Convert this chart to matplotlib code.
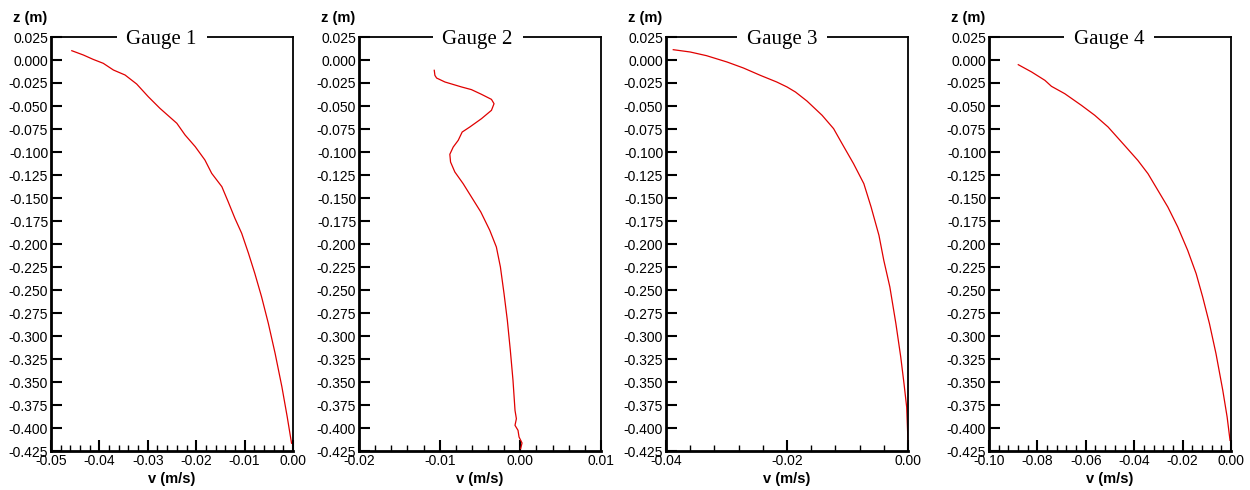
import matplotlib
matplotlib.use("Agg")
import matplotlib.pyplot as plt
from matplotlib.ticker import MultipleLocator, FuncFormatter

plt.rcParams['font.family'] = ['Liberation Sans', 'DejaVu Sans']

# ---- data ----
g1_v = [-0.0457, -0.0433, -0.0413, -0.0392, -0.0371, -0.0347, -0.0323, -0.0299, -0.0275, -0.0240,
        -0.0223, -0.0202, -0.0182, -0.0168, -0.0147, -0.0134, -0.0120, -0.0106, -0.0092, -0.0079,
        -0.0065, -0.0051, -0.0037, -0.0023, -0.0012, -0.0003]
g1_z = [0.0101, 0.0054, 0.0007, -0.0036, -0.0109, -0.0163, -0.0261, -0.0399, -0.0525, -0.0688,
        -0.0815, -0.0942, -0.1087, -0.1232, -0.1377, -0.1540, -0.1721, -0.1884, -0.2101, -0.2318,
        -0.2573, -0.2862, -0.3188, -0.3551, -0.3877, -0.4166]

g2_v = [-0.01067, -0.01059, -0.01038, -0.00935, -0.00729, -0.00606, -0.00482, -0.00358, -0.00326,
        -0.00358, -0.00482, -0.00626, -0.00721, -0.00770, -0.00832, -0.00874, -0.00865, -0.00812,
        -0.00709, -0.00606, -0.00490, -0.00379, -0.00297, -0.00247, -0.00202, -0.00161, -0.00124,
        -0.00091, -0.00066, -0.00049, -0.00066, -0.00029, -0.00016, 0.00021, 0.00004]
g2_z = [-0.0112, -0.0167, -0.0196, -0.0239, -0.0293, -0.0322, -0.0373, -0.0428, -0.0475,
        -0.0547, -0.0638, -0.0728, -0.0783, -0.0873, -0.0946, -0.1025, -0.1109, -0.1217,
        -0.1344, -0.1489, -0.1652, -0.1851, -0.2033, -0.2250, -0.2540, -0.2830, -0.3156,
        -0.3482, -0.3808, -0.3899, -0.3971, -0.4025, -0.4098, -0.4163, -0.4225]

g3_v = [-0.0388, -0.0360, -0.0333, -0.0299, -0.0272, -0.0244, -0.0217, -0.0200, -0.0186, -0.0167,
        -0.0142, -0.0123, -0.0109, -0.0090, -0.0073, -0.0061, -0.0048, -0.0040, -0.0030, -0.0020,
        -0.0012, -0.00066, -0.00022, 0.0]
g3_z = [0.0112, 0.0087, 0.0047, -0.0022, -0.0087, -0.0167, -0.0239, -0.0293, -0.0348, -0.0446,
        -0.0601, -0.0746, -0.0909, -0.1127, -0.1344, -0.1598, -0.1906, -0.2178, -0.2467, -0.2866,
        -0.3228, -0.3518, -0.3772, -0.4152]

g4_v = [-0.0879, -0.0824, -0.0769, -0.0742, -0.0687, -0.0618, -0.0563, -0.0508, -0.0440, -0.0385,
        -0.0343, -0.0302, -0.0261, -0.0220, -0.0179, -0.0144, -0.0117, -0.0089, -0.0062, -0.0034,
        -0.0016, -0.0004]
g4_z = [-0.0051, -0.0130, -0.0221, -0.0286, -0.0366, -0.0493, -0.0601, -0.0728, -0.0928, -0.1091,
        -0.1236, -0.1417, -0.1598, -0.1815, -0.2069, -0.2322, -0.2576, -0.2866, -0.3192, -0.3590,
        -0.3880, -0.4134]

titles = ["Gauge 1", "Gauge 2", "Gauge 3", "Gauge 4"]
xlims = [(-0.05, 0.0), (-0.02, 0.01), (-0.04, 0.0), (-0.10, 0.0)]
xmajor = [0.01, 0.01, 0.02, 0.02]
xminor = [0.002, 0.002, 0.004, 0.004]
ylim = (-0.425, 0.025)
xlabel = "v (m/s)"
ylabel = "z (m)"

series = [(g1_v, g1_z), (g2_v, g2_z), (g3_v, g3_z), (g4_v, g4_z)]

fig = plt.figure(figsize=(12.5, 4.9), dpi=100)
lefts_px = [51, 359, 666, 989]
title_pos = [0.457, 0.49, 0.48, 0.495]
width_px = 242
top_px, bottom_px = 37, 451
W, H = 1250, 490
ax_h = bottom_px - top_px

xfmt = FuncFormatter(lambda x, _: f"{(0.0 if abs(x) < 1e-12 else x):.2f}")
yfmt = FuncFormatter(lambda y, _: f"{(0.0 if abs(y) < 1e-12 else y):.3f}")

for i, (v, z) in enumerate(series):
    ax = fig.add_axes([lefts_px[i] / W, 1 - bottom_px / H, width_px / W, ax_h / H])
    ax.plot(v, z, color='#e00000', lw=0.9)
    ax.set_xlim(*xlims[i])
    ax.set_ylim(*ylim)
    ax.xaxis.set_major_locator(MultipleLocator(xmajor[i]))
    ax.xaxis.set_minor_locator(MultipleLocator(xminor[i]))
    ax.yaxis.set_major_locator(MultipleLocator(0.025))
    ax.xaxis.set_major_formatter(xfmt)
    ax.yaxis.set_major_formatter(yfmt)
    ax.tick_params(axis='both', which='major', direction='in', length=8, width=1.5,
                   labelsize=10, pad=2, colors='black')
    ax.tick_params(axis='x', which='minor', direction='in', length=4.5, width=1.0)
    ax.tick_params(axis='y', which='minor', left=False)
    ax.tick_params(axis='x', which='major', pad=2)
    for s in ['left', 'bottom']:
        ax.spines[s].set_linewidth(2.0)
    for s in ['top', 'right']:
        ax.spines[s].set_linewidth(1.3)
    ax.set_xlabel(xlabel, fontsize=10.5, fontweight='bold', labelpad=3)
    ax.text(-38 / width_px, 1 + 19 / ax_h, ylabel, transform=ax.transAxes, fontsize=10.5,
            fontweight='bold', ha='left', va='center')
    ax.text(title_pos[i], 1 - 7 / ax_h, titles[i], transform=ax.transAxes, fontsize=15,
            family=['Liberation Serif', 'DejaVu Serif'], ha='center', va='baseline',
            bbox=dict(facecolor='white', edgecolor='none', pad=7), zorder=5, clip_on=False)

fig.savefig("out.png", dpi=100)
